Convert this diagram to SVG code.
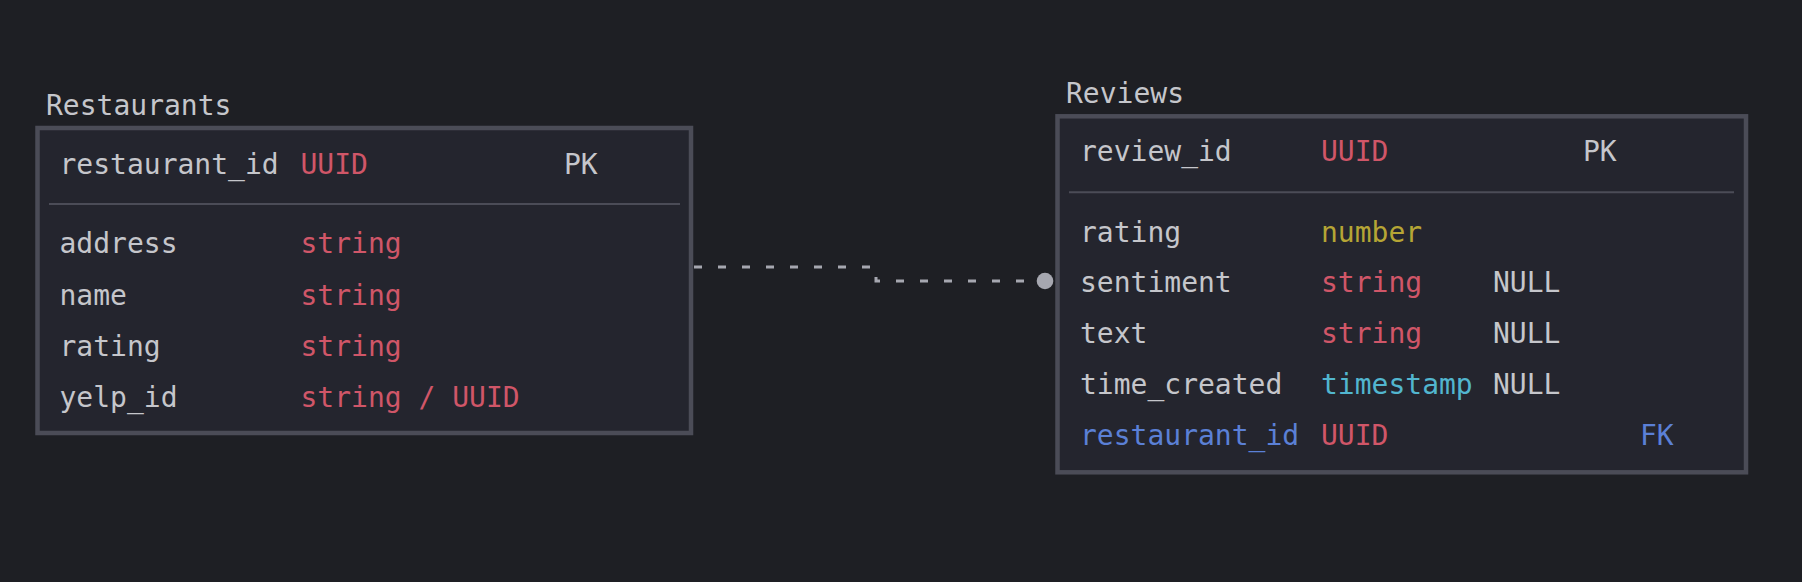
<svg xmlns="http://www.w3.org/2000/svg" width="1802" height="582" viewBox="0 0 1802 582">
<style>
text{font-family:"DejaVu Sans Mono","Liberation Mono",monospace;font-size:28px;fill:#c5c6cb}
.box{fill:#24252e;stroke:#4b4c57;stroke-width:4.5}
.div{stroke:#4b4c57;stroke-width:2}
.red{fill:#d05668}
.yel{fill:#b6a535}
.cya{fill:#52b6cf}
.blu{fill:#5b80d6}
.rel{fill:none;stroke:#a6a7b0;stroke-width:3;stroke-dasharray:8 16}
</style>
<rect width="1802" height="582" fill="#1e1f24"/>
<g id="connectors">
<path class="rel" d="M694,267 H876 V281 H1040"/>
<circle cx="1045" cy="281" r="8.3" fill="#a6a7b0"/>
</g>
<g id="restaurants">
<text x="46" y="115">Restaurants</text>
<rect class="box" x="37.5" y="128" width="653.5" height="305"/>
<text x="59.5" y="174">restaurant_id</text>
<text class="red" x="300.5" y="174">UUID</text>
<text x="564" y="174">PK</text>
<line class="div" x1="49" y1="204" x2="680" y2="204"/>
<text x="59.5" y="253">address</text>
<text class="red" x="300.5" y="253">string</text>
<text x="59.5" y="304.5">name</text>
<text class="red" x="300.5" y="304.5">string</text>
<text x="59.5" y="355.5">rating</text>
<text class="red" x="300.5" y="355.5">string</text>
<text x="59.5" y="406.5">yelp_id</text>
<text class="red" x="300.5" y="406.5">string / UUID</text>
</g>
<g id="reviews">
<text x="1066" y="102.5">Reviews</text>
<rect class="box" x="1057.5" y="116.3" width="688.5" height="356"/>
<text x="1080" y="161">review_id</text>
<text class="red" x="1321" y="161">UUID</text>
<text x="1583" y="161">PK</text>
<line class="div" x1="1069" y1="192.3" x2="1734" y2="192.3"/>
<text x="1080" y="241.7">rating</text>
<text class="yel" x="1321" y="241.7">number</text>
<text x="1080" y="292">sentiment</text>
<text class="red" x="1321" y="292">string</text>
<text x="1493" y="292">NULL</text>
<text x="1080" y="342.7">text</text>
<text class="red" x="1321" y="342.7">string</text>
<text x="1493" y="342.7">NULL</text>
<text x="1080" y="393.5">time_created</text>
<text class="cya" x="1321" y="393.5">timestamp</text>
<text x="1493" y="393.5">NULL</text>
<text class="blu" x="1080" y="444.5">restaurant_id</text>
<text class="red" x="1321" y="444.5">UUID</text>
<text class="blu" x="1640" y="444.5">FK</text>
</g>
</svg>
